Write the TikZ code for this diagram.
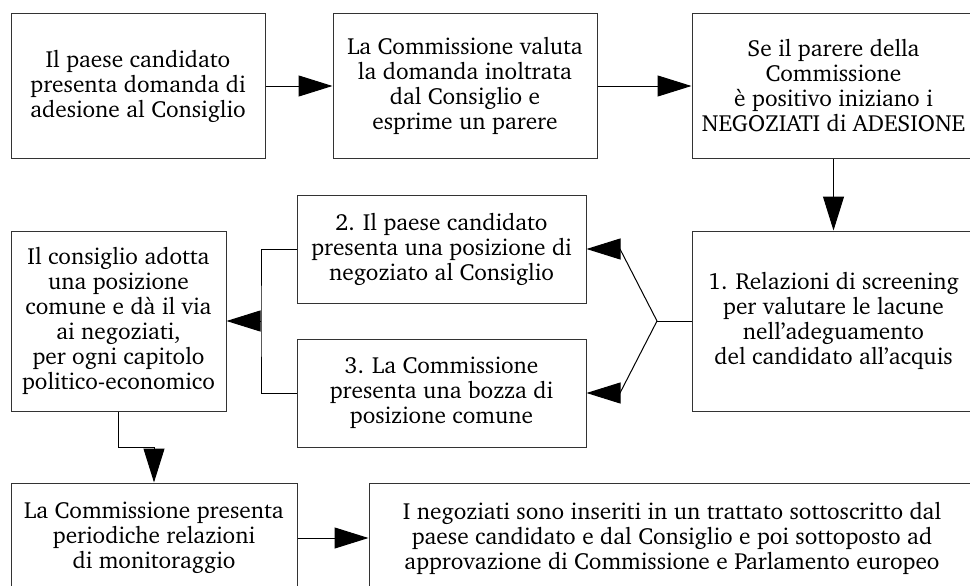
\documentclass[tikz,border=0pt]{standalone}
\usepackage[T1]{fontenc}
\usepackage{charter}
\usepackage{xcolor}
\usepackage{tikz}
\usetikzlibrary{arrows.meta, positioning}
\definecolor{edge}{HTML}{333333}

\begin{document}
\begin{tikzpicture}[
    x=0.75pt, y=-0.75pt,
    box/.style={
      rectangle, draw=edge, line width=0.75pt,
      font=\fontsize{17.5}{18.75}\selectfont,
      align=center, inner sep=0pt
    },
    arrow/.style={-{Triangle[length=25.5pt, width=15.75pt]}, line width=0.75pt, draw=black},
    link/.style={line width=0.75pt, draw=black}
  ]

    % ── Page frame (the picture is cut at the right and bottom) ──────────
    \useasboundingbox (0,0) rectangle (970,585);
    \clip (0,0) rectangle (970,585);

    % ── TOP ROW ──────────────────────────────────────────────────────────
    \node[box, minimum width=190.5pt, minimum height=108pt] (cand) at (138, 86)
      {Il paese candidato\\presenta domanda di\\adesione al Consiglio};
    \node[box, minimum width=198pt, minimum height=108pt] (valuta) at (465, 86)
      {La Commissione valuta\\la domanda inoltrata\\dal Consiglio e\\esprime un parere};
    \node[box, minimum width=212.25pt, minimum height=108pt] (parere) at (833.5, 86)
      {Se il parere della\\Commissione\\\`e positivo iniziano i\\NEGOZIATI di ADESIONE};

    % ── MIDDLE ROW ───────────────────────────────────────────────────────
    \node[box, minimum width=212.25pt, minimum height=135pt] (screen) at (833.5, 321)
      {1. Relazioni di screening\\per valutare le lacune\\nell'adeguamento\\del candidato all'acquis};
    \node[box, minimum width=216.75pt, minimum height=81pt] (pos2) at (441.5, 249)
      {2. Il paese candidato\\presenta una posizione di\\negoziato al Consiglio};
    \node[box, minimum width=216.75pt, minimum height=81pt] (pos3) at (441.5, 393)
      {3. La Commissione\\presenta una bozza di\\posizione comune};
    \node[box, minimum width=161.25pt, minimum height=135pt] (consiglio) at (118.5, 321)
      {Il consiglio adotta\\una posizione\\comune e d\`a il via\\ai negoziati,\\per ogni capitolo\\politico-economico};

    % ── BOTTOM ROW ───────────────────────────────────────────────────────
    \node[box, minimum width=214.5pt, minimum height=82.5pt] (monitor) at (154, 538)
      {La Commissione presenta\\periodiche relazioni\\di monitoraggio};
    \node[box, minimum width=454.5pt, minimum height=82.5pt] (trattato) at (672, 538)
      {I negoziati sono inseriti in un trattato sottoscritto dal\\paese candidato e dal Consiglio e poi sottoposto ad\\approvazione di Commissione e Parlamento europeo};

    % ── Junction points ──────────────────────────────────────────────────
    \coordinate (fork)  at (657, 321);
    \coordinate (up)    at (620, 249);
    \coordinate (down)  at (620, 393);
    \coordinate (merge) at (261, 321);
    \coordinate (kink)  at (154, 447);

    % ── Arrows: top row ──────────────────────────────────────────────────
    \draw[arrow] (cand)   -- (valuta);
    \draw[arrow] (valuta) -- (parere);
    \draw[arrow] (parere) -- (screen);

    % ── Arrows: screening splits in two ──────────────────────────────────
    \draw[link]  (screen.west) -- (fork);
    \draw[arrow] (fork) -- (up)   -- (pos2.east);
    \draw[arrow] (fork) -- (down) -- (pos3.east);

    % ── Arrows: both positions go to the Council ─────────────────────────
    \draw[link]  (pos2.west) -| (merge) |- (pos3.west);
    \draw[arrow] (merge) -- (consiglio.east);

    % ── Arrows: bottom row ───────────────────────────────────────────────
    \draw[arrow] (consiglio.south) |- (kink) -- (monitor.north);
    \draw[arrow] (monitor) -- (trattato);

  \end{tikzpicture}
\end{document}
